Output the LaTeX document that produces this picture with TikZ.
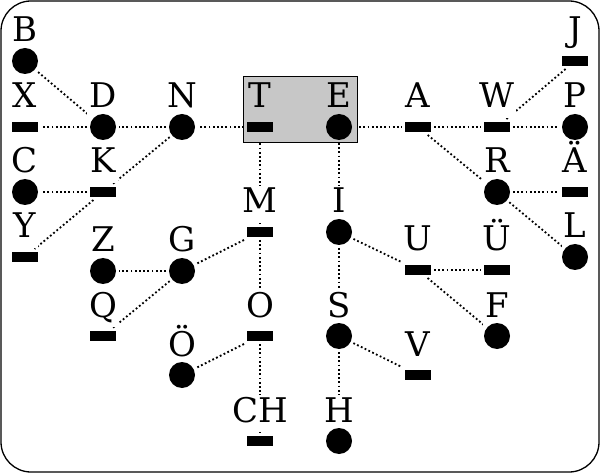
\documentclass[tikz,border=0pt]{standalone}
\usepackage{fontspec}
\setmainfont{DejaVu Serif}
\pgfdeclarelayer{background}
\pgfsetlayers{background,main}
\tikzset{
  dit/.style={circle,fill=black,minimum size=26bp,inner sep=0pt,outer sep=3bp},
  dah/.style={rectangle,fill=black,minimum width=26bp,minimum height=10bp,inner sep=0pt,outer sep=3bp},
  letter/.style={anchor=base,fill=white,inner sep=2bp,text depth=8bp,font=\fontsize{34bp}{40bp}\selectfont},
  link/.style={line width=1.8bp,dash pattern=on 1.8bp off 2.4bp}
}
\newcommand\morsetree{B/B/25/61/dit, X/X/25/127/dah, C/C/25/192/dit, Y/Y/25/257/dah,
    D/D/103/127/dit, K/K/103/192/dah, Z/Z/103/271/dit, Q/Q/103/336/dah,
    N/N/182/127/dit, G/G/182/271/dit, OE/Ö/182/375/dit,
    M/M/260/232/dah, O/O/260/336/dah, CH/CH/260/441/dah,
    I/I/339/232/dit, S/S/339/336/dit, H/H/339/441/dit,
    A/A/418/127/dah, U/U/418/270/dah, V/V/418/375/dah,
    W/W/497/127/dah, R/R/497/192/dit, UE/Ü/497/270/dah, F/F/497/336/dit,
    J/J/575/61/dah, P/P/575/127/dit, AE/Ä/575/192/dah, L/L/575/257/dit}
\begin{document}
\begin{tikzpicture}[x=1bp,y=-1bp]
\useasboundingbox (0,0) rectangle (600,473);
\draw[line width=1.3bp,rounded corners=30bp] (1,1) rectangle (599,472);
\node[draw,line width=1bp,fill=black!22,minimum width=114bp,minimum height=66bp,inner sep=0pt] (root) at (300,110) {};
\foreach \n/\t/\x/\y/\s in \morsetree
  \node[letter] (\n l) at (\x,\y-19) {\t};
\foreach \n/\t/\x/\y/\s in \morsetree
  \node[\s] (\n) at (\x,\y) {};
\node[letter,fill=none] (Tl) at (260,108) {T};
\node[dah] (T) at (260,127) {};
\node[letter,fill=none] (El) at (339,108) {E};
\node[dit] (E) at (339,127) {};
\begin{pgfonlayer}{background}
\foreach \a/\b in {T/N, N/D, D/X, D/B, N/K, K/C, K/Y, T/M, M/G, G/Z, G/Q, M/O, O/OE, O/CH,
    E/A, A/W, W/P, W/J, A/R, R/AE, R/L, E/I, I/U, U/UE, U/F, I/S, S/V, S/H}
  \draw[link] (\a) -- (\b);
\end{pgfonlayer}
\end{tikzpicture}
\end{document}
